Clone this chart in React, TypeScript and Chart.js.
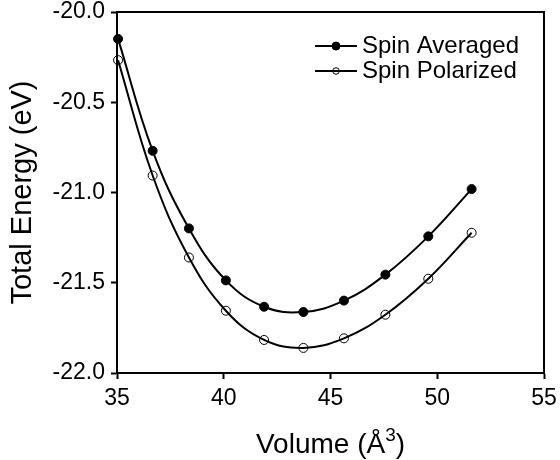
import React, { useEffect, useRef } from "react";
import { Chart, registerables } from "chart.js";

Chart.register(...registerables);

// ---- data ----
const volume = [35.05, 36.67, 38.37, 40.1, 41.89, 43.73, 45.63, 47.57, 49.58, 51.61];
const spinAveraged = [-20.149, -20.769, -21.199, -21.487, -21.633, -21.662, -21.599, -21.455, -21.243, -20.981];
const spinPolarized = [-20.267, -20.906, -21.36, -21.655, -21.817, -21.861, -21.808, -21.677, -21.478, -21.223];
const seriesLabels = ["Spin Averaged", "Spin Polarized"];
const xRange = [35, 55];
const yRange = [-22, -20];
const xStep = 5;
const yStep = 0.5;
const xTitleMain = "Volume (Å";
const xTitleSup = "3";
const xTitleEnd = ")";
const yTitle = "Total Energy (eV)";

const FONT = "'Liberation Sans', Arial, Helvetica, sans-serif";

const framePlugin = {
  id: "frameBox",
  afterDraw(chart: any) {
    const { ctx } = chart;
    const { left, right, top, bottom } = chart.chartArea;
    ctx.save();
    ctx.strokeStyle = "#000";
    ctx.lineWidth = 2;
    ctx.beginPath();
    ctx.moveTo(left - 1, top);
    ctx.lineTo(right, top);
    ctx.lineTo(right, bottom + 1);
    ctx.stroke();
    ctx.restore();
  },
};

const xTitlePlugin = {
  id: "xTitleSup",
  afterDraw(chart: any) {
    const { ctx } = chart;
    const { left, right } = chart.chartArea;
    const cx = (left + right) / 2;
    const baseY = chart.height - 7;
    ctx.save();
    ctx.fillStyle = "#000";
    ctx.textBaseline = "alphabetic";
    ctx.textAlign = "left";
    const mainFont = `28px ${FONT}`;
    const supFont = `19px ${FONT}`;
    ctx.font = mainFont;
    const w1 = ctx.measureText(xTitleMain).width;
    const w3 = ctx.measureText(xTitleEnd).width;
    ctx.font = supFont;
    const w2 = ctx.measureText(xTitleSup).width;
    let x = cx - (w1 + w2 + w3) / 2;
    ctx.font = mainFont;
    ctx.fillText(xTitleMain, x, baseY);
    x += w1;
    ctx.font = supFont;
    ctx.fillText(xTitleSup, x, baseY - 12);
    x += w2;
    ctx.font = mainFont;
    ctx.fillText(xTitleEnd, x, baseY);
    ctx.restore();
  },
};

const legendPlugin = {
  id: "insetLegend",
  afterDraw(chart: any) {
    const { ctx } = chart;
    const { left, top } = chart.chartArea;
    const x0 = left + 198;
    const x1 = left + 240;
    const rows = [top + 34, top + 59];
    chart.data.datasets.forEach((ds: any, i: number) => {
      const y = rows[i];
      ctx.save();
      ctx.strokeStyle = "#000";
      ctx.lineWidth = 2;
      ctx.beginPath();
      ctx.moveTo(x0, y);
      ctx.lineTo(x1, y);
      ctx.stroke();
      ctx.beginPath();
      ctx.arc((x0 + x1) / 2, y, i === 0 ? 4 : 3.3, 0, Math.PI * 2);
      ctx.lineWidth = 1;
      if (i === 0) {
        ctx.fillStyle = "#000";
        ctx.fill();
      }
      ctx.stroke();
      ctx.fillStyle = "#000";
      ctx.font = `24px ${FONT}`;
      ctx.textBaseline = "middle";
      ctx.textAlign = "left";
      ctx.fillText(ds.label, x1 + 5, y);
      ctx.restore();
    });
  },
};

export default function App() {
  const ref = useRef<HTMLCanvasElement | null>(null);

  useEffect(() => {
    document.body.style.margin = "0";
    const canvas = ref.current;
    if (!canvas) return;
    Chart.defaults.font.family = FONT;
    Chart.defaults.color = "#000";

    const chart = new Chart(canvas, {
      type: "line",
      data: {
        datasets: [
          {
            label: seriesLabels[0],
            data: volume.map((v, i) => ({ x: v, y: spinAveraged[i] })),
            borderColor: "#000",
            borderWidth: 2,
            backgroundColor: "#000",
            pointBackgroundColor: "#000",
            pointBorderColor: "#000",
            pointBorderWidth: 1,
            pointRadius: 4.5,
            tension: 0.4,
            clip: false as any,
          },
          {
            label: seriesLabels[1],
            data: volume.map((v, i) => ({ x: v, y: spinPolarized[i] })),
            borderColor: "#000",
            borderWidth: 2,
            backgroundColor: "rgba(0,0,0,0)",
            pointBackgroundColor: "rgba(0,0,0,0)",
            pointBorderColor: "#000",
            pointBorderWidth: 1,
            pointRadius: 4.5,
            tension: 0.4,
            clip: false as any,
          },
        ],
      },
      options: {
        responsive: false,
        animation: false,
        layout: { padding: { top: 12, right: 16, left: 0, bottom: 0 } },
        plugins: {
          legend: { display: false },
          tooltip: { enabled: false },
        },
        scales: {
          x: {
            type: "linear",
            min: xRange[0],
            max: xRange[1],
            afterFit: (s: any) => {
              s.height = 87;
              s.paddingLeft = 0;
              s.paddingRight = 0;
            },
            ticks: {
              stepSize: xStep,
              padding: 6,
              font: { size: 23 },
              color: "#000",
              callback: (v: any) => String(v),
            },
            grid: {
              drawOnChartArea: false,
              drawTicks: true,
              tickLength: 6,
              tickWidth: 2,
              tickColor: "#000",
            },
            border: { display: true, color: "#000", width: 2 },
            title: { display: false },
          },
          y: {
            type: "linear",
            min: yRange[0],
            max: yRange[1],
            afterFit: (s: any) => {
              s.width = 117;
              s.paddingTop = 0;
              s.paddingBottom = 0;
            },
            ticks: {
              stepSize: yStep,
              padding: 6,
              font: { size: 23 },
              color: "#000",
              callback: (v: any) => Number(v).toFixed(1),
            },
            grid: {
              drawOnChartArea: false,
              drawTicks: true,
              tickLength: 6,
              tickWidth: 2,
              tickColor: "#000",
            },
            border: { display: true, color: "#000", width: 2 },
            title: {
              display: true,
              text: yTitle,
              font: { size: 29 },
              color: "#000",
              padding: { top: 6, bottom: 0 },
            },
          },
        },
      },
      plugins: [framePlugin, legendPlugin, xTitlePlugin],
    });
    return () => chart.destroy();
  }, []);

  return (
    <div style={{ width: 560, height: 460 }}>
      <canvas ref={ref} width={560} height={460} />
    </div>
  );
}
